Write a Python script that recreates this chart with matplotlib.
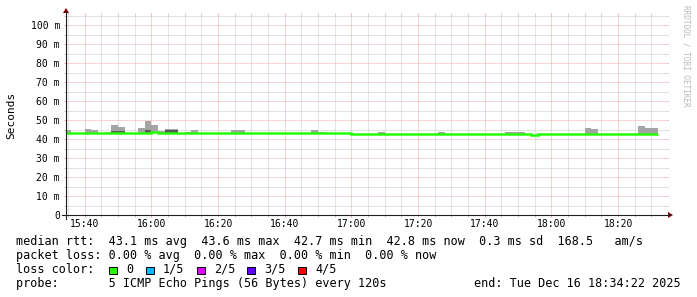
import matplotlib
matplotlib.use('Agg')
import matplotlib.pyplot as plt
import numpy as np
from matplotlib.lines import Line2D
from matplotlib.patches import Polygon, Rectangle
from matplotlib.ticker import MultipleLocator, FixedLocator, FuncFormatter

# data: one value per 2 minute step, starting 15:34 (minutes of day)
step_start = 15 * 60 + 34
step_len = 2
view_start = 15 * 60 + 34 + 22 / 60.
view_len = 180

median_ms = [43.2, 43.2, 43.2, 43.2, 43.2, 42.95, 43.2, 43.2, 43.2, 43.2,
             43.2, 42.95, 43.2, 43.5, 43.2, 43.2, 43.2, 43.2, 43.2, 43.2,
             43.2, 42.95, 42.95, 42.95, 43.2, 43.2, 43.2, 43.2, 43.2, 43.2,
             42.95, 42.95, 42.95, 42.95, 43.2, 43.2, 42.95, 42.95, 42.95, 42.95,
             42.95, 42.95, 42.95, 42.7, 42.7, 42.7, 42.7, 42.7, 42.7, 42.7,
             42.7, 42.7, 42.7, 42.7, 42.7, 42.7, 42.7, 42.7, 42.7, 42.7,
             42.7, 42.7, 42.7, 42.7, 42.7, 42.7, 42.7, 42.7, 42.7, 42.7,
             42.2, 42.7, 42.7, 42.7, 42.7, 42.7, 42.7, 42.7, 42.7, 42.7,
             42.7, 42.7, 42.7, 42.7, 42.7, 42.7, 42.7, 42.7, 42.7]

# highest ping of each step (outer smoke)
max_ms = [44.7, 43.2, 43.2, 45.3, 44.7, 42.95, 43.9, 47.5, 46.3, 43.2,
          43.2, 45.8, 49.5, 47.4, 44.0, 45.3, 45.3, 43.2, 43.9, 44.5,
          43.2, 42.95, 42.95, 42.95, 43.2, 44.7, 44.7, 43.2, 43.2, 43.2,
          42.95, 42.95, 42.95, 42.95, 43.2, 43.2, 42.95, 44.7, 43.9, 42.95,
          42.95, 42.95, 42.95, 42.7, 42.7, 42.7, 42.7, 43.7, 42.7, 42.7,
          42.7, 42.7, 42.7, 42.7, 42.7, 42.7, 43.7, 42.7, 42.7, 42.7,
          42.7, 42.7, 42.7, 42.7, 42.7, 42.7, 43.7, 43.7, 43.7, 42.7,
          42.2, 42.7, 42.7, 42.7, 42.7, 42.7, 42.7, 42.7, 45.8, 45.3,
          42.7, 42.7, 42.7, 42.7, 42.7, 42.7, 46.8, 45.8, 45.8]

# 4th of 5 pings (inner smoke), only where it shows above the median line
p4_ms = list(median_ms)
p4_ms[7] = 44.1
p4_ms[8] = 44.1
p4_ms[12] = 45.0
p4_ms[15] = 44.9
p4_ms[16] = 44.9

y_ticks = [0, 10, 20, 30, 40, 50, 60, 70, 80, 90, 100]
x_ticks = [940, 960, 980, 1000, 1020, 1040, 1060, 1080, 1100]

loss_labels = ['0', '1/5', '2/5', '3/5', '4/5']
loss_colors = ['#26ff00', '#00b8ff', '#dd00ff', '#6000ff', '#ff0000']

line_rtt = 'median rtt:  43.1 ms avg  43.6 ms max  42.7 ms min  42.8 ms now  0.3 ms sd  168.5   am/s'
line_loss = 'packet loss: 0.00 % avg  0.00 % max  0.00 % min  0.00 % now'
line_probe = 'probe:       5 ICMP Echo Pings (56 Bytes) every 120s'
line_end = 'end: Tue Dec 16 18:34:22 2025'

W, H = 697, 297
xo, yo, xs, ys = 66, 215, 600, 200


def fx(x):
  return x / W


def fy(y):
  return 1 - y / H


mono = 'DejaVu Sans Mono'
fig = plt.figure(figsize=(W / 100, H / 100), dpi=100)
fig.patch.set_facecolor('white')
ax = fig.add_axes([fx(xo), fy(yo), xs / W, ys / H])
ax.set_facecolor('white')

edges = step_start + step_len * np.arange(len(median_ms) + 1)
ax.stairs(max_ms, edges, baseline=median_ms, fill=True, color='#a4a4a4',
          lw=0, zorder=3)
ax.stairs(p4_ms, edges, baseline=median_ms, fill=True, color='#585858',
          lw=0, zorder=4)
ax.stairs(median_ms, edges, baseline=None, color='#26ff00', lw=1.8,
          zorder=5)

ax.set_xlim(view_start, view_start + view_len)
ax.set_ylim(0, ys / 1.9)

ax.xaxis.set_major_locator(FixedLocator(x_ticks))
ax.xaxis.set_minor_locator(MultipleLocator(5))
ax.yaxis.set_major_locator(FixedLocator(y_ticks))
ax.yaxis.set_minor_locator(MultipleLocator(5))
ax.xaxis.set_major_formatter(
    FuncFormatter(lambda v, p: '%d:%02d' % (int(v) // 60, int(v) % 60)))
ax.yaxis.set_major_formatter(
    FuncFormatter(lambda v, p: '0' if v == 0 else '%d m' % v))

grid_minor = '#c6c6c6'
grid_major = '#f0aaaa'
ax.grid(which='major', color=grid_major, linestyle=(0, (1, 1)), lw=0.72,
        zorder=1)
ax.grid(which='minor', color=grid_minor, linestyle=(0, (1, 1)), lw=0.72,
        zorder=1)
ax.set_axisbelow(True)
for s in ax.spines.values():
  s.set_visible(False)
ax.tick_params(which='both', direction='out', length=1.44, width=0.72,
               left=True, right=True, top=True, bottom=True)
ax.tick_params(which='major', color=grid_major)
ax.tick_params(which='minor', color=grid_minor)
ax.tick_params(axis='y', which='major', labelsize=7, pad=2.9,
               labelfontfamily=mono)
ax.tick_params(axis='x', which='major', labelsize=7, pad=1.5,
               labelfontfamily=mono)

# axes with arrows
fig.add_artist(Line2D([fx(xo - 4), fx(xo + xs + 4)], [fy(yo), fy(yo)],
                      color='#202020', lw=0.8))
fig.add_artist(Line2D([fx(xo), fx(xo)], [fy(yo + 4), fy(yo - ys - 4)],
                      color='#202020', lw=0.8))
fig.add_artist(Polygon([[fx(xo + xs + 2), fy(yo - 3)],
                        [fx(xo + xs + 2), fy(yo + 3)],
                        [fx(xo + xs + 7), fy(yo)]], closed=True,
                       color='#800000', lw=0))
fig.add_artist(Polygon([[fx(xo - 3), fy(yo - ys - 2)],
                        [fx(xo + 3), fy(yo - ys - 2)],
                        [fx(xo), fy(yo - ys - 7)]], closed=True,
                       color='#800000', lw=0))

fig.text(fx(11), fy(yo - ys / 2), 'Seconds', rotation=90, ha='center',
         va='center', fontsize=8, family=mono)
fig.text(fx(686), fy(5), 'RRDTOOL / TOBI OETIKER', rotation=270,
         ha='center', va='top', fontsize=5.5, family=mono, color='#b8b8b8')

# legend block
fs = 8.5
fig.text(fx(16), fy(245), line_rtt, fontsize=fs, family=mono, va='baseline')
fig.text(fx(16), fy(259), line_loss, fontsize=fs, family=mono, va='baseline')
fig.text(fx(16), fy(273), 'loss color:', fontsize=fs, family=mono,
         va='baseline')
box_x = [109, 146, 197, 247, 298]
for bx, lab, col in zip(box_x, loss_labels, loss_colors):
  fig.add_artist(Rectangle((fx(bx), fy(274)), 7.5 / W, 7.5 / H,
                           facecolor=col, edgecolor='black', lw=0.7))
  fig.text(fx(bx + 17), fy(273), lab, fontsize=fs, family=mono,
           va='baseline')
fig.text(fx(16), fy(287), line_probe, fontsize=fs, family=mono,
         va='baseline')
fig.text(fx(681), fy(287), line_end, fontsize=fs, family=mono,
         va='baseline', ha='right')

fig.savefig('out.png', dpi=100, facecolor='white')
